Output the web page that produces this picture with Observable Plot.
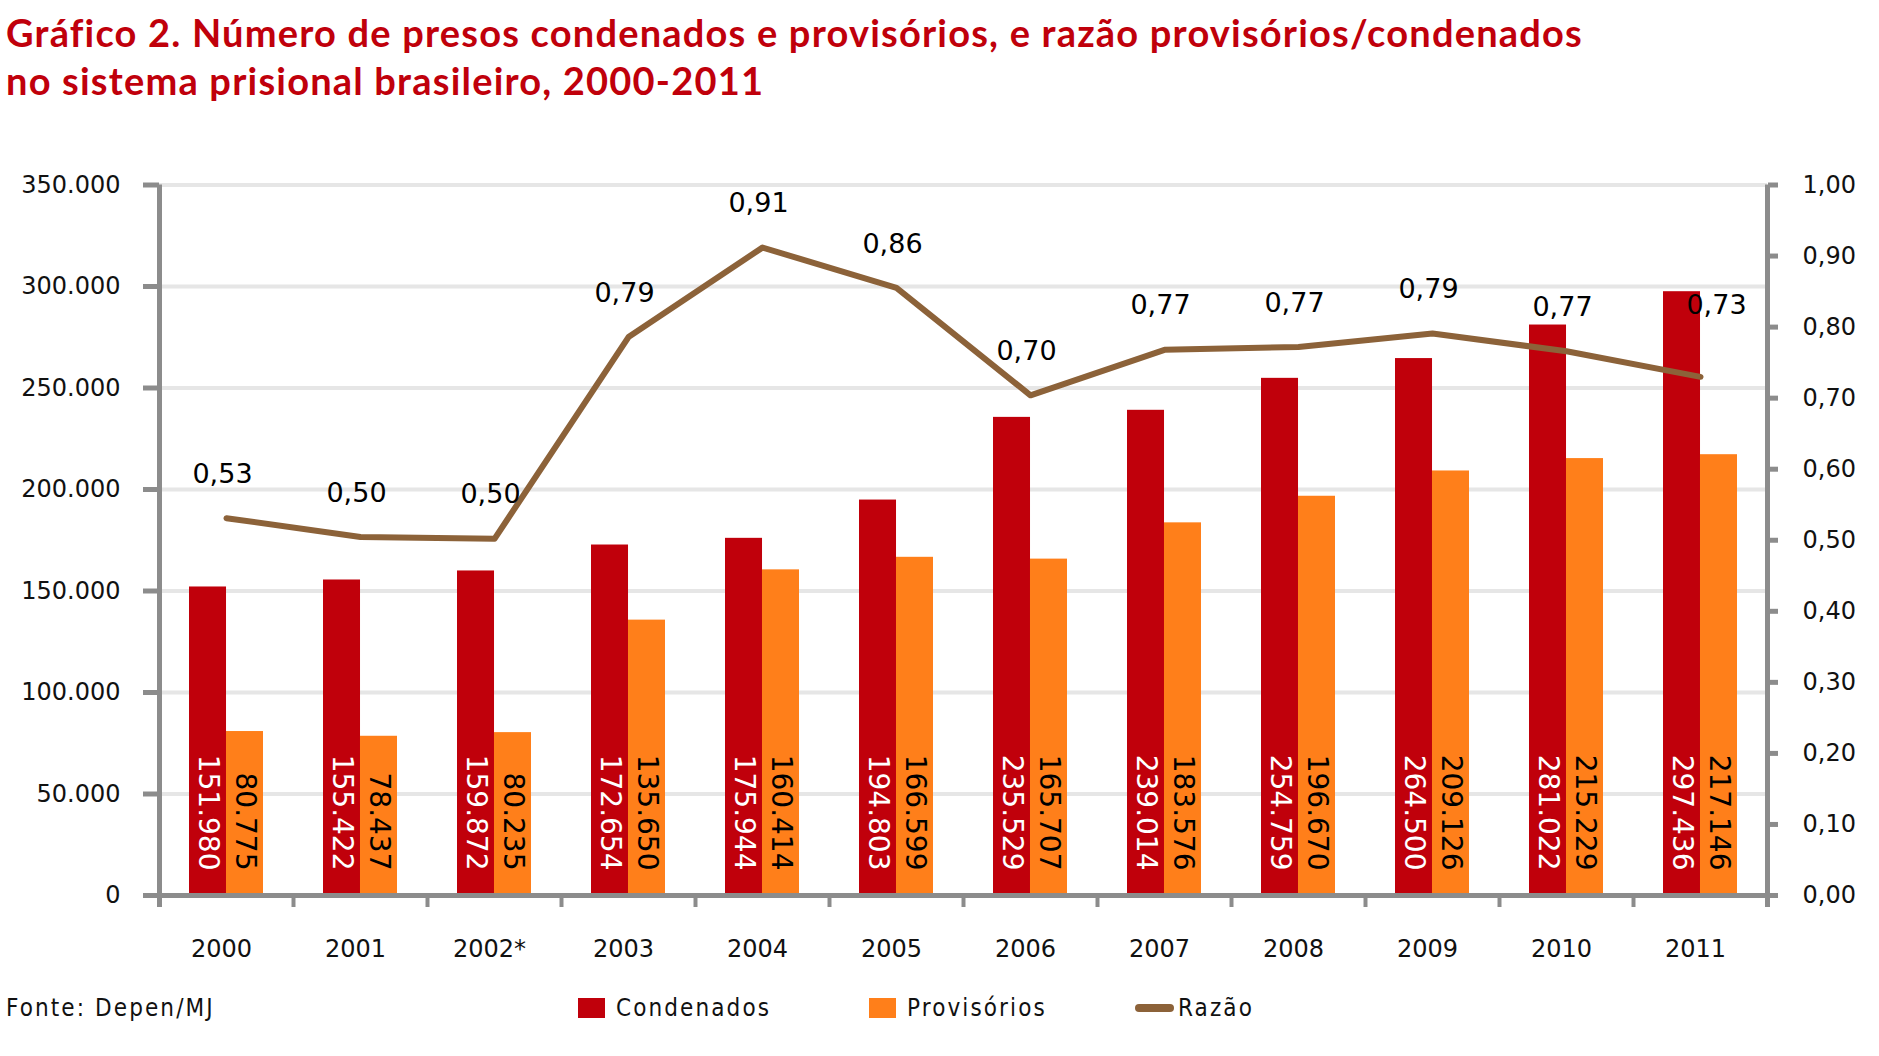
<!DOCTYPE html>
<html><head><meta charset="utf-8">
<script src="https://cdn.jsdelivr.net/npm/d3@7"></script>
<script src="https://cdn.jsdelivr.net/npm/@observablehq/plot@0.6"></script>
<style>
body{margin:0;background:#fff;width:1879px;height:1056px;position:relative;overflow:hidden}
#title{position:absolute;left:6px;top:8px;font-family:Lato,"Open Sans",sans-serif;font-weight:700;font-size:38px;letter-spacing:1.2px;line-height:48px;color:#c0000b;white-space:nowrap}
#chart{position:absolute;left:0;top:110px}
#legend{position:absolute;left:0;top:985px;width:1879px;height:45px;font-family:"DejaVu Sans Condensed","DejaVu Sans",sans-serif;font-size:24px;letter-spacing:2.1px;color:#111}
.item{position:absolute;top:0;height:45px;display:flex;align-items:center;white-space:nowrap}
.sw{display:inline-block;margin-right:11px}
</style></head><body>
<div id="title"></div>
<div id="chart"></div>
<div id="legend"></div>
<script>
const titleLines = ["Gráfico 2. Número de presos condenados e provisórios, e razão provisórios/condenados", "no sistema prisional brasileiro, 2000-2011"];
const years = ["2000","2001","2002*","2003","2004","2005","2006","2007","2008","2009","2010","2011"];
const condenados = [151980,155422,159872,172654,175944,194803,235529,239014,254759,264500,281022,297436];
const provisorios = [80775,78437,80235,135650,160414,166599,165707,183576,196670,209126,215229,217146];
const razao = [0.531,0.5047,0.502,0.786,0.912,0.8552,0.704,0.768,0.772,0.791,0.766,0.730];
const seriesNames = ["Condenados","Provisórios","Razão"];
const colors = ["#c0000b","#ff7f1a","#8c6239"];
const leftTicks = [0,50000,100000,150000,200000,250000,300000,350000];
const rightTicks = [0,0.1,0.2,0.3,0.4,0.5,0.6,0.7,0.8,0.9,1.0];
const source = "Fonte: Depen/MJ";

document.getElementById("title").innerHTML = titleLines.join("<br>");

const yMax = leftTicks[leftTicks.length-1];
const rMax = rightTicks[rightTicks.length-1];
const rows = years.map((y,i)=>({year:y, cond:condenados[i], prov:provisorios[i], razao:razao[i]}));

const W=1879, H=870, mL=159, mR=112, mT=74.5, mB=85;
const pad = 0.448;
const step = (W-mL-mR)/years.length;
const half = step/2;
const bw = step*(1-pad);
const loc = d3.formatLocale({decimal:",", thousands:".", grouping:[3], currency:["",""]});
const fmt = loc.format(",d");
const rfmt = v => v.toFixed(2).replace(".", ",");
const gray = "#8c8c8c";
const toY = r => r*yMax/rMax;

const chart = Plot.plot({
  width:W, height:H, marginLeft:mL, marginRight:mR, marginTop:mT, marginBottom:mB,
  style:{fontFamily:"'DejaVu Sans', sans-serif", fontSize:"24px", color:"#111", background:"white", overflow:"visible"},
  x:{domain:years, paddingInner:pad, paddingOuter:pad/2},
  y:{domain:[0,yMax]},
  marks:[
    Plot.ruleY(leftTicks.slice(1), {stroke:"#e6e6e6", strokeWidth:4}),
    Plot.barY(rows, {x:"year", y:"cond", fill:colors[0], insetRight:bw/2}),
    Plot.barY(rows, {x:"year", y:"prov", fill:colors[1], insetLeft:bw/2}),
    Plot.text(rows, {x:"year", y:d=>0, text:d=>fmt(d.cond), rotate:90, textAnchor:"end", lineAnchor:"middle", dx:-bw/4, dy:-25, fill:"white", fontSize:28}),
    Plot.text(rows, {x:"year", y:d=>0, text:d=>fmt(d.prov), rotate:90, textAnchor:"end", lineAnchor:"middle", dx:bw/4, dy:-25, fill:"#000", fontSize:28}),
    Plot.ruleY([0], {stroke:gray, strokeWidth:5}),
    Plot.ruleX([years[0]], {dx:-half, stroke:gray, strokeWidth:5, insetBottom:-12}),
    Plot.ruleX([years[years.length-1]], {dx:half, stroke:gray, strokeWidth:5, insetBottom:-12}),
    Plot.ruleX(years.slice(1), {x:d=>d, y1:d=>0, y2:d=>0, dx:-half, insetBottom:-12, stroke:gray, strokeWidth:4}),
    Plot.line(rows, {x:"year", y:d=>toY(d.razao), stroke:colors[2], strokeWidth:6, strokeLinecap:"round", strokeLinejoin:"round"}),
    Plot.text(rows.slice(0,-1), {x:"year", y:d=>toY(d.razao), text:d=>rfmt(d.razao), dx:-4, dy:-44, lineAnchor:"middle", fontSize:27, fill:"#000"}),
    Plot.text(rows.slice(-1), {x:"year", y:d=>toY(d.razao), text:d=>rfmt(d.razao), dx:16, dy:-71, lineAnchor:"middle", fontSize:27, fill:"#000"}),
    Plot.axisY({anchor:"left", ticks:leftTicks, tickSize:16, tickPadding:23, tickFormat:d=>fmt(d), stroke:gray, strokeWidth:5, fill:"#111", fontSize:24, label:null}),
    Plot.axisY({anchor:"right", ticks:rightTicks.map(toY), tickSize:10, tickPadding:25, tickFormat:d=>rfmt(d*rMax/yMax), stroke:gray, strokeWidth:5, fill:"#111", fontSize:24, label:null}),
    Plot.axisX({anchor:"bottom", tickSize:0, tickPadding:44, dx:-5, fill:"#111", fontSize:24, label:null})
  ]
});
document.getElementById("chart").appendChild(chart);

const legend = document.getElementById("legend");
function addItem(left, html){ const d=document.createElement("div"); d.className="item"; d.style.left=left+"px"; d.innerHTML=html; legend.appendChild(d); }
addItem(6, source);
addItem(578, `<span class="sw" style="width:27px;height:20px;background:${colors[0]}"></span>${seriesNames[0]}`);
addItem(869, `<span class="sw" style="width:27px;height:20px;background:${colors[1]}"></span>${seriesNames[1]}`);
addItem(1135, `<span class="sw" style="width:39px;height:8px;border-radius:4px;background:${colors[2]};margin-right:4px"></span>${seriesNames[2]}`);
</script>
</body></html>
